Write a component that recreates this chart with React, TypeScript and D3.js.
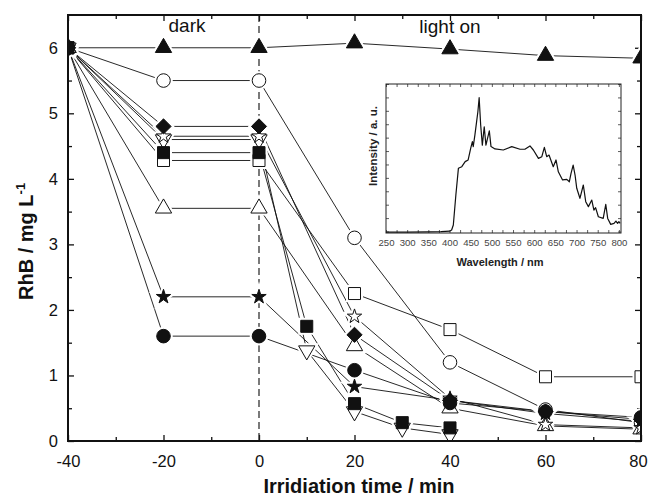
import React, { useEffect, useRef } from "react";
import * as d3 from "d3";

// irradiation times (min)
const timesA = [-40, -20, 0, 20, 40, 60, 80];
const timesB = [-40, -20, 0, 10, 20, 30, 40];

// RhB concentration (mg/L) per sample
const filledTriangle = [6, 6, 6, 6.07, 5.98, 5.88, 5.84];
const openCircle = [6, 5.5, 5.5, 3.1, 1.2, 0.48, 0.28];
const filledDiamond = [6, 4.8, 4.8, 1.62, 0.62, 0.45, 0.33];
const openStar = [6, 4.65, 4.65, 1.9, 0.65, 0.25, 0.2];
const openSquare = [6, 4.28, 4.28, 2.25, 1.7, 0.98, 0.98];
const openTriangle = [6, 3.55, 3.55, 1.45, 0.5, 0.23, 0.18];
const filledStar = [6, 2.2, 2.2, 0.83, 0.62, 0.42, 0.3];
const filledCircle = [6, 1.6, 1.6, 1.08, 0.58, 0.45, 0.36];
const filledSquare = [6, 4.4, 4.4, 1.75, 0.57, 0.28, 0.2]; // timesB
const openTriangleDown = [6, 4.6, 4.6, 1.38, 0.45, 0.2, 0.1]; // timesB

const xMajor = [-40, -20, 0, 20, 40, 60, 80];
const xMinor = [-30, -10, 10, 30, 50, 70];
const yMajor = [0, 1, 2, 3, 4, 5, 6];
const yMinor = [0.5, 1.5, 2.5, 3.5, 4.5, 5.5];

// lamp spectrum (inset)
const specNm = [250, 300, 350, 380, 400, 405, 409, 415, 421, 429, 437, 444, 450, 454, 456, 460, 464, 467, 470, 473.6, 477.5, 482, 486, 494, 498, 507.5, 527, 547, 566.5, 578, 590, 598, 610, 618, 624, 629.5, 635, 645, 651.5, 657, 667, 677, 683, 687, 692, 696.5, 700.5, 708, 716, 721.7, 728, 736, 741, 745, 751.5, 763, 769, 773.6, 780.7, 788.5, 793, 797, 800, 803];
const specI = [0.6, 0.6, 0.8, 0.9, 1.2, 2, 5.4, 25.5, 43.4, 44.5, 47.9, 49, 56.8, 61.3, 58, 65.8, 74.7, 81.4, 90.8, 72.5, 59, 71.3, 59, 68.5, 58, 56.4, 55.7, 58, 56.2, 56.2, 58.4, 55.7, 50.1, 51.2, 57.5, 51.2, 52.3, 44.5, 49, 41.1, 35.6, 36, 34.4, 40, 45.6, 38.9, 30, 23.3, 32.2, 21, 17.7, 22.1, 15.4, 17, 10.9, 9.8, 19.2, 9.8, 5.8, 6.5, 8, 6.5, 7.6, 6.5];
const specTicks = [250, 300, 350, 400, 450, 500, 550, 600, 650, 700, 750, 800];

const font = "'Liberation Sans', Arial, sans-serif";

export default function App() {
  const ref = useRef<SVGSVGElement>(null);

  useEffect(() => {
    const svg = d3.select(ref.current);
    svg.selectAll("*").remove();

    const x = d3.scaleLinear().domain([-40, 80]).range([68, 641]);
    const y = d3.scaleLinear().domain([0, 6.5]).range([441, 15]);

    svg.append("rect").attr("width", 649).attr("height", 498).attr("fill", "#fff");

    svg.append("clipPath").attr("id", "plotClip")
      .append("rect").attr("x", 68).attr("y", 15).attr("width", 573).attr("height", 426);

    // axes
    const tidy = (g: any, size = 16.5) => {
      g.select(".domain").remove();
      g.selectAll("line").attr("stroke", "#111").attr("stroke-width", 1.3);
      g.selectAll("text").attr("font-family", font).attr("font-size", size).attr("fill", "#111");
    };
    const fmt = (d: any) => String(d);

    const bottom = svg.append("g").attr("transform", "translate(0,441)")
      .call(d3.axisBottom(x).tickValues(xMajor).tickSize(-6).tickPadding(14).tickFormat(fmt)).call(tidy);
    // keep the last label inside the page
    bottom.selectAll("text").filter((d: any) => d === 80).attr("dx", -3);
    svg.append("g").attr("transform", "translate(0,441)")
      .call(d3.axisBottom(x).tickValues(xMinor).tickSize(-4).tickFormat(() => "")).call(tidy);
    svg.append("g").attr("transform", "translate(0,15)")
      .call(d3.axisTop(x).tickValues(xMajor).tickSize(-6).tickFormat(() => "")).call(tidy);
    svg.append("g").attr("transform", "translate(0,15)")
      .call(d3.axisTop(x).tickValues(xMinor).tickSize(-4).tickFormat(() => "")).call(tidy);

    svg.append("g").attr("transform", "translate(68,0)")
      .call(d3.axisLeft(y).tickValues(yMajor).tickSize(-6).tickPadding(10).tickFormat(fmt)).call(tidy);
    svg.append("g").attr("transform", "translate(68,0)")
      .call(d3.axisLeft(y).tickValues(yMinor).tickSize(-4).tickFormat(() => "")).call(tidy);
    svg.append("g").attr("transform", "translate(641,0)")
      .call(d3.axisRight(y).tickValues(yMajor).tickSize(-6).tickFormat(() => "")).call(tidy);
    svg.append("g").attr("transform", "translate(641,0)")
      .call(d3.axisRight(y).tickValues(yMinor).tickSize(-4).tickFormat(() => "")).call(tidy);

    // dark / light divider
    svg.append("line")
      .attr("x1", x(0)).attr("x2", x(0)).attr("y1", y(6.5)).attr("y2", y(0))
      .attr("stroke", "#222").attr("stroke-width", 1.2).attr("stroke-dasharray", "7,4");

    svg.append("text").attr("x", 187).attr("y", 32).attr("text-anchor", "middle")
      .attr("font-family", font).attr("font-size", 19).attr("fill", "#111").text("dark");
    svg.append("text").attr("x", 450).attr("y", 33).attr("text-anchor", "middle")
      .attr("font-family", font).attr("font-size", 19).attr("fill", "#111").text("light on");

    // series
    const diamond = { draw: (ctx: any, size: number) => {
      const r = Math.sqrt(size / 2);
      ctx.moveTo(0, -r); ctx.lineTo(r, 0); ctx.lineTo(0, r); ctx.lineTo(-r, 0); ctx.closePath();
    } };
    const triDown = { draw: (ctx: any, size: number) => {
      const h = -Math.sqrt(size / (Math.sqrt(3) * 3));
      ctx.moveTo(0, -h * 2); ctx.lineTo(Math.sqrt(3) * h, h); ctx.lineTo(-Math.sqrt(3) * h, h); ctx.closePath();
    } };

    const series = [
      { t: timesA, v: filledTriangle, type: d3.symbolTriangle, size: 115, fill: true },
      { t: timesA, v: openCircle, type: d3.symbolCircle, size: 145, fill: false },
      { t: timesA, v: openSquare, type: d3.symbolSquare, size: 144, fill: false },
      { t: timesA, v: openTriangle, type: d3.symbolTriangle, size: 115, fill: false },
      { t: timesB, v: openTriangleDown, type: triDown, size: 115, fill: false },
      { t: timesA, v: openStar, type: d3.symbolStar, size: 64, fill: false },
      { t: timesB, v: filledSquare, type: d3.symbolSquare, size: 144, fill: true },
      { t: timesA, v: filledDiamond, type: diamond, size: 115, fill: true },
      { t: timesA, v: filledStar, type: d3.symbolStar, size: 64, fill: true },
      { t: timesA, v: filledCircle, type: d3.symbolCircle, size: 145, fill: true },
    ];

    const plot = svg.append("g").attr("clip-path", "url(#plotClip)");

    series.forEach(s => {
      const pts = s.t.map((t, i) => [x(t), y(s.v[i])] as [number, number]);
      plot.append("path").attr("d", d3.line()(pts))
        .attr("fill", "none").attr("stroke", "#111").attr("stroke-width", 0.9);
    });

    // white gap around markers
    series.forEach(s => {
      const sym = d3.symbol(s.type as any, s.size);
      plot.append("g").selectAll("path").data(s.t.map((t, i) => [x(t), y(s.v[i])]))
        .join("path").attr("d", sym as any)
        .attr("transform", d => `translate(${d[0]},${d[1]})`)
        .attr("fill", "#fff").attr("stroke", "#fff").attr("stroke-width", 5);
    });

    series.forEach(s => {
      const sym = d3.symbol(s.type as any, s.size);
      plot.append("g").selectAll("path").data(s.t.map((t, i) => [x(t), y(s.v[i])]))
        .join("path").attr("d", sym as any)
        .attr("transform", d => `translate(${d[0]},${d[1]})`)
        .attr("fill", s.fill ? "#111" : "#fff").attr("stroke", "#111").attr("stroke-width", 1);
    });

    svg.append("rect").attr("x", 68).attr("y", 15).attr("width", 573).attr("height", 426)
      .attr("fill", "none").attr("stroke", "#111").attr("stroke-width", 2);

    // titles
    svg.append("text").attr("x", 359).attr("y", 493).attr("text-anchor", "middle")
      .attr("font-family", font).attr("font-size", 20).attr("font-weight", "bold").attr("fill", "#111")
      .text("Irridiation time / min");
    const yt = svg.append("text").attr("transform", "translate(33,300) rotate(-90)")
      .attr("font-family", font).attr("font-size", 20).attr("font-weight", "bold").attr("fill", "#111");
    yt.append("tspan").text("RhB / mg L");
    yt.append("tspan").attr("font-size", 13).attr("dy", -8).text("-1");

    // inset spectrum
    const ix = d3.scaleLinear().domain([250, 805]).range([386, 621]);
    const iy = d3.scaleLinear().domain([0, 100]).range([233, 84]);
    const inset = svg.append("g");
    inset.append("rect").attr("x", 386).attr("y", 84).attr("width", 235).attr("height", 149).attr("fill", "#fff");

    const tidySmall = (g: any) => {
      g.select(".domain").remove();
      g.selectAll("line").attr("stroke", "#333").attr("stroke-width", 0.8);
      g.selectAll("text").attr("font-family", font).attr("font-size", 9.6).attr("fill", "#444");
    };
    const nmTicks = d3.range(250, 801, 25);
    const iTicks = d3.range(100, 0, -9);
    inset.append("g").attr("transform", "translate(0,233)")
      .call(d3.axisBottom(ix).tickValues(nmTicks).tickSize(-3).tickPadding(6)
        .tickFormat((d: any) => (specTicks.includes(d) ? String(d) : ""))).call(tidySmall);
    inset.append("g").attr("transform", "translate(0,84)")
      .call(d3.axisTop(ix).tickValues(nmTicks).tickSize(-3).tickFormat(() => "")).call(tidySmall);
    inset.append("g").attr("transform", "translate(386,0)")
      .call(d3.axisLeft(iy).tickValues(iTicks).tickSize(-3).tickFormat(() => "")).call(tidySmall);
    inset.append("g").attr("transform", "translate(621,0)")
      .call(d3.axisRight(iy).tickValues(iTicks).tickSize(-3).tickFormat(() => "")).call(tidySmall);

    const specLine = d3.line<number>().x((d, i) => ix(specNm[i])).y(d => iy(d));
    inset.append("path").attr("d", specLine(specI))
      .attr("fill", "none").attr("stroke", "#111").attr("stroke-width", 1.2).attr("stroke-linejoin", "round");

    inset.append("rect").attr("x", 386).attr("y", 84).attr("width", 235).attr("height", 149)
      .attr("fill", "none").attr("stroke", "#222").attr("stroke-width", 1);

    inset.append("text").attr("x", 500).attr("y", 266).attr("text-anchor", "middle")
      .attr("font-family", font).attr("font-size", 11).attr("font-weight", "bold").attr("fill", "#222")
      .text("Wavelength / nm");
    inset.append("text").attr("transform", "translate(377,146) rotate(-90)").attr("text-anchor", "middle")
      .attr("font-family", font).attr("font-size", 11.5).attr("font-weight", "bold").attr("fill", "#222")
      .text("Intensity / a. u.");
  }, []);

  return (
    <svg ref={ref} width={649} height={498} style={{ position: "absolute", left: 0, top: 0 }} />
  );
}
